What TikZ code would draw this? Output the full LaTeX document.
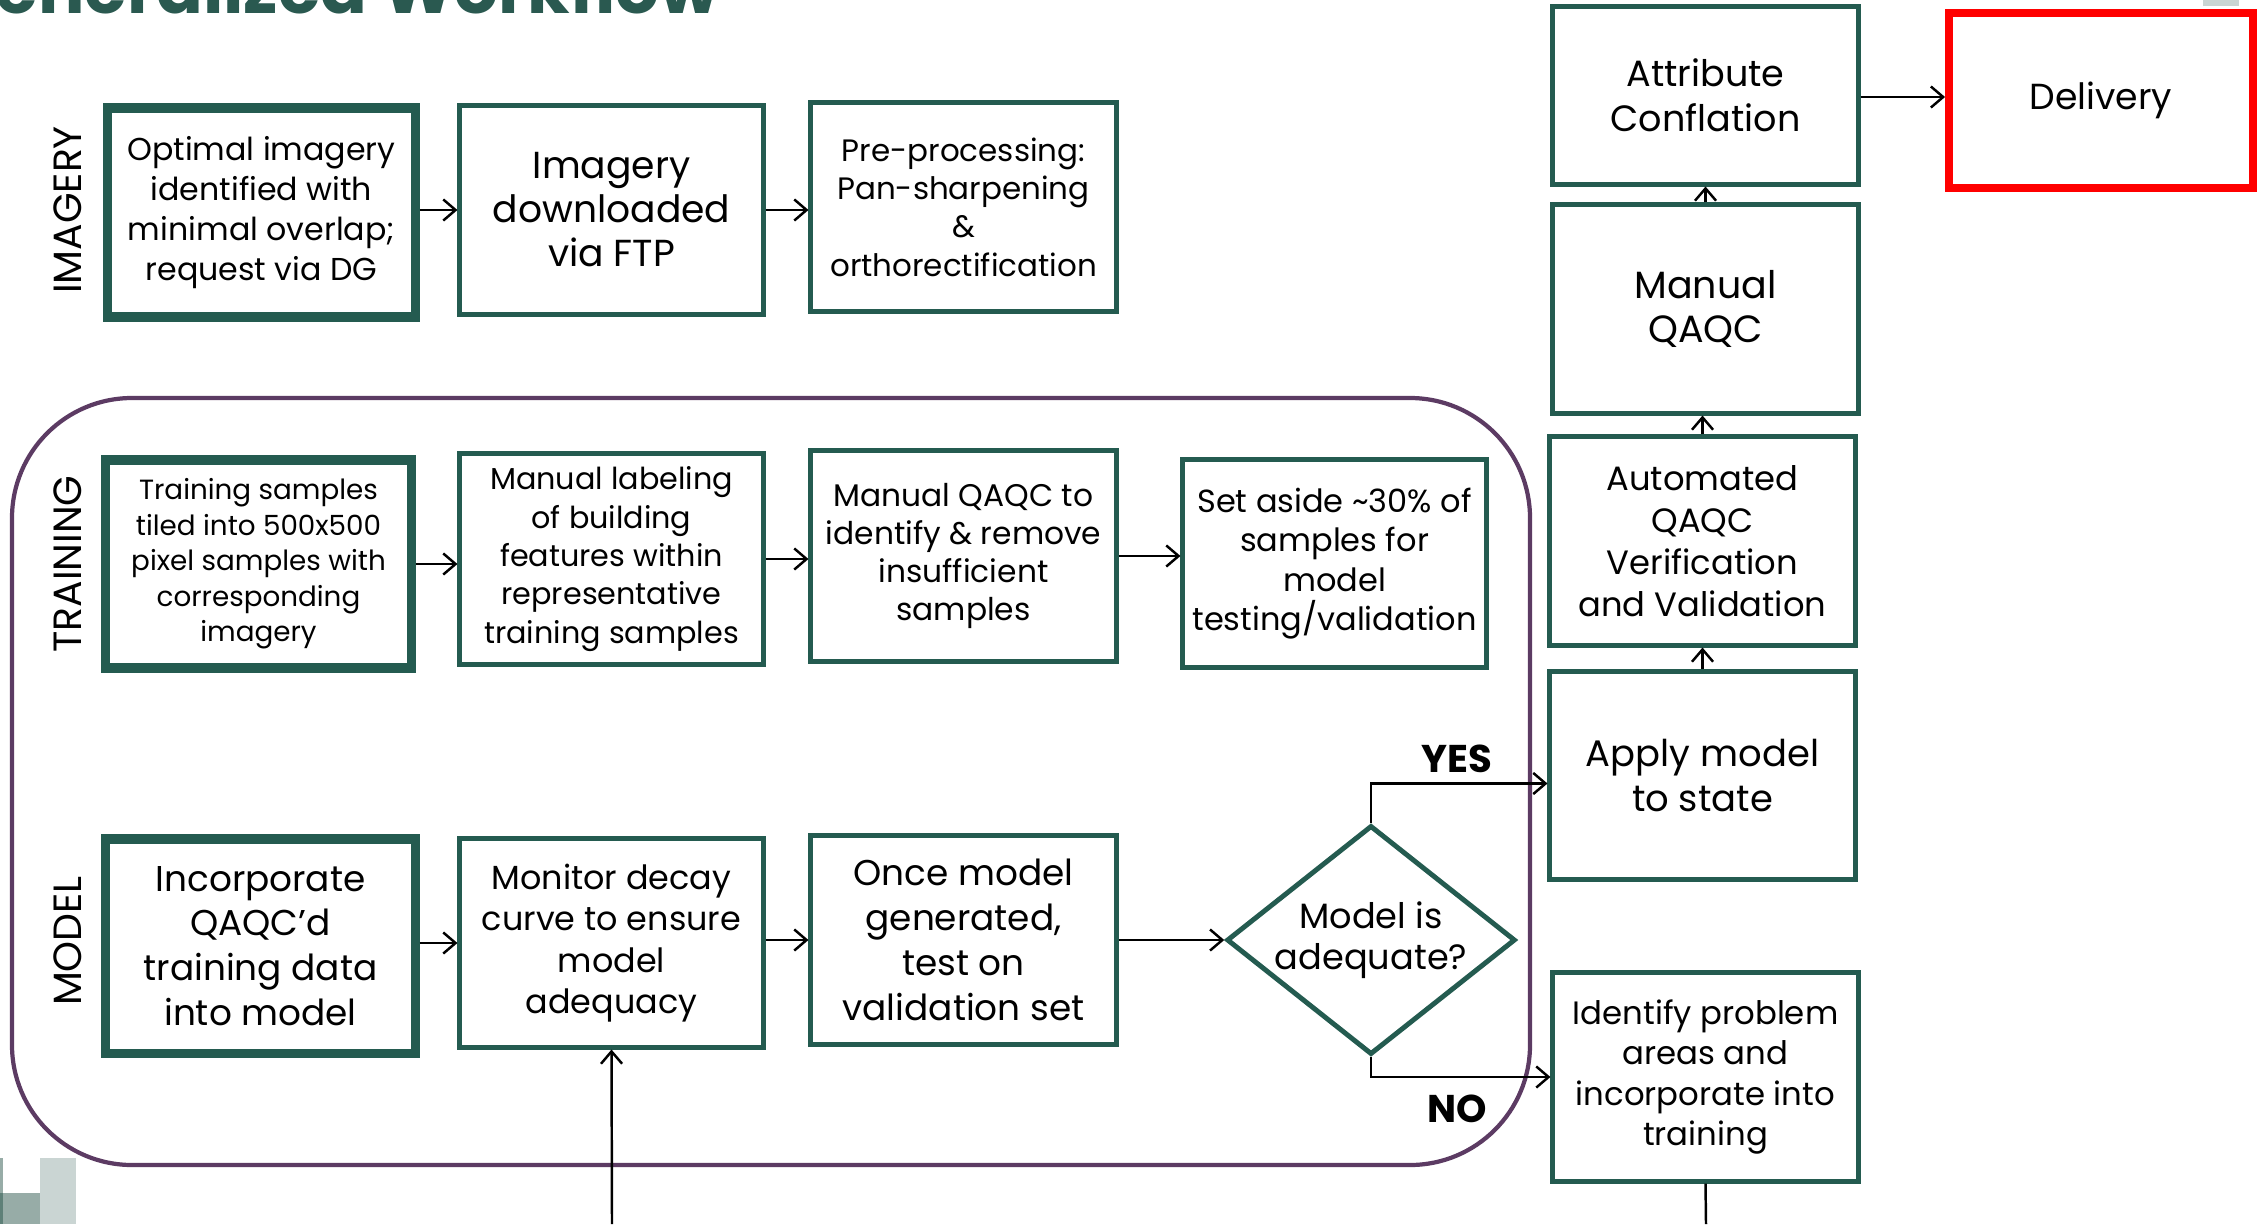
\documentclass[tikz,border=0pt]{standalone}
\usepackage{fontspec}
\setmainfont{Poppins}
\usetikzlibrary{shapes.geometric,arrows.meta,calc}
\definecolor{boxgreen}{HTML}{245B50}
\definecolor{lanepurple}{HTML}{5C3B63}
\definecolor{titlegreen}{HTML}{2A5950}
\definecolor{logolight}{HTML}{CAD5D3}
\definecolor{logomid}{HTML}{97ACA7}
\definecolor{logodark}{HTML}{5E8078}
\definecolor{delivred}{HTML}{FF0000}
\begin{document}
\begin{tikzpicture}[x=0.01cm,y=-0.01cm,
  fs/.style 2 args={font=\fontsize{#1}{#2}\selectfont},
  box/.style={draw=boxgreen, line width=1.4pt, align=center, inner sep=1pt, rectangle},
  thickbox/.style={box, line width=2.6pt},
  decision/.style={draw=boxgreen, line width=1.4pt, align=center, diamond, inner sep=0pt},
  lane/.style={rotate=90, fs={11.2}{13}},
  conn/.style={draw=black, line width=0.7pt, -{Straight Barb[length=3.5pt,width=6pt]}},
  plain/.style={draw=black, line width=0.7pt},
  yn/.style={font=\fontsize{11}{13}\selectfont\bfseries}
]
\useasboundingbox (0,0) rectangle (2267,1224);
\clip (0,0) rectangle (2267,1224);

% title (cut off at top)
\node[anchor=base east, text=titlegreen, font=\fontsize{19.6}{24}\selectfont\bfseries, inner sep=0pt] (title) at (720,13) {Generalized Workflow};

% logo fragments
\fill[logolight] (40,1158) rectangle (76,1224);
\fill[logomid] (3,1193) rectangle (40,1224);
\fill[logomid] (0,1158) rectangle (3,1193);
\fill[logodark] (0,1193) rectangle (3,1224);
\fill[logolight] (2203,0) rectangle (2239,6);

% training/model frame
\draw[lanepurple, line width=1.2pt, rounded corners=1.2cm] (12,398) rectangle (1530,1165);

% lane labels
\node[lane] (lImg) at (68,210) {IMAGERY};
\node[lane] (lTrn) at (68,564) {TRAINING};
\node[lane] (lMod) at (68,941) {MODEL};

% imagery row
\node[thickbox, fs={9}{11.4}, minimum width=3.07cm, minimum height=2.09cm] (b1) at (261.5,212.5) {Optimal imagery\\identified with\\minimal overlap;\\request via DG};
\node[box, fs={10.7}{12.5}, minimum width=3.03cm, minimum height=2.08cm] (b2) at (611.5,210) {Imagery\\downloaded\\via FTP};
\node[box, fs={8.8}{10.9}, minimum width=3.05cm, minimum height=2.08cm] (b3) at (963.5,207) {Pre-processing:\\Pan-sharpening\\\&\\orthorectification};

% training row
\node[thickbox, fs={7.9}{10.1}, minimum width=3.05cm, minimum height=2.08cm] (t1) at (258.5,564) {Training samples\\tiled into 500x500\\pixel samples with\\corresponding\\imagery};
\node[box, fs={8.6}{10.9}, minimum width=3.03cm, minimum height=2.10cm] (t2) at (611.5,559) {Manual labeling\\of building\\features within\\representative\\training samples};
\node[box, fs={8.9}{10.8}, minimum width=3.05cm, minimum height=2.10cm] (t3) at (963.5,556) {Manual QAQC to\\identify \& remove\\insufficient\\samples};
\node[box, fs={9.1}{11.2}, minimum width=3.03cm, minimum height=2.07cm] (t4) at (1334.5,563.5) {Set aside \textasciitilde30\% of\\samples for\\model\\testing/validation};

% model row
\node[thickbox, fs={10.2}{12.75}, minimum width=3.09cm, minimum height=2.14cm] (m1) at (260.5,946) {Incorporate\\QAQC’d\\training data\\into model};
\node[box, fs={9.5}{11.8}, minimum width=3.03cm, minimum height=2.08cm] (m2) at (611.5,943) {Monitor decay\\curve to ensure\\model\\adequacy};
\node[box, fs={10.2}{12.75}, minimum width=3.05cm, minimum height=2.08cm] (m3) at (963.5,940) {Once model\\generated,\\test on\\validation set};
\node[decision, fs={10}{11.5}, minimum width=2.82cm, minimum height=2.24cm, aspect=1.26] (d) at (1371,940) {Model is\\adequate?};

% right column
\node[box, fs={10.4}{12.75}, minimum width=3.05cm, minimum height=1.77cm] (att) at (1705.5,95.5) {Attribute\\Conflation};
\node[box, fs={10.8}{12.75}, minimum width=3.05cm, minimum height=2.08cm] (man) at (1705.5,309) {Manual\\QAQC};
\node[box, fs={9.6}{11.9}, minimum width=3.05cm, minimum height=2.08cm] (auto) at (1702.5,541) {Automated\\QAQC\\Verification\\and Validation};
\node[box, fs={10.5}{12.75}, minimum width=3.05cm, minimum height=2.07cm] (apply) at (1702.5,775.5) {Apply model\\to state};
\node[box, fs={9.2}{11.5}, minimum width=3.05cm, minimum height=2.08cm] (ident) at (1705.5,1077) {Identify problem\\areas and\\incorporate into\\training};
\node[box, draw=delivred, line width=2.2pt, fs={10.3}{12.75}, minimum width=3.04cm, minimum height=1.75cm] (deliv) at (2101,100.5) {Delivery};

% labels
\node[yn] (yes) at (1457,759) {YES};
\node[yn] (no) at (1457,1109) {NO};

% free ends
\coordinate (bot1) at (612,1224);
\coordinate (bot2) at (1706,1224);

% connectors
\draw[conn] (b1.east |- b2.west) -- (b2.west);
\draw[conn] (b2.east) -- (b2.east -| b3.west);
\draw[conn] (t1.east) -- (t1.east -| t2.west);
\draw[conn] (t2.east) -- (t2.east -| t3.west);
\draw[conn] (t3.east) -- (t3.east -| t4.west);
\draw[conn] (m1.east |- m2.west) -- (m2.west);
\draw[conn] (m2.east |- m3.west) -- (m3.west);
\draw[conn] (m3.east |- d.west) -- (d.west);
\draw[conn] (d.north) |- ($(apply.west)+(0,8)$);
\draw[conn] (d.south) |- (ident.west);
\draw[conn] (apply.north) -- (auto.south);
\draw[conn] (auto.north) -- (auto.north |- man.south);
\draw[conn] (man.north) -- (att.south);
\draw[conn] (att.east |- 0,97) -- (deliv.west |- 0,97);
\draw[conn] (bot1) -- (m2.south);
\draw[plain] (ident.south) -- (bot2);
\end{tikzpicture}
\end{document}
